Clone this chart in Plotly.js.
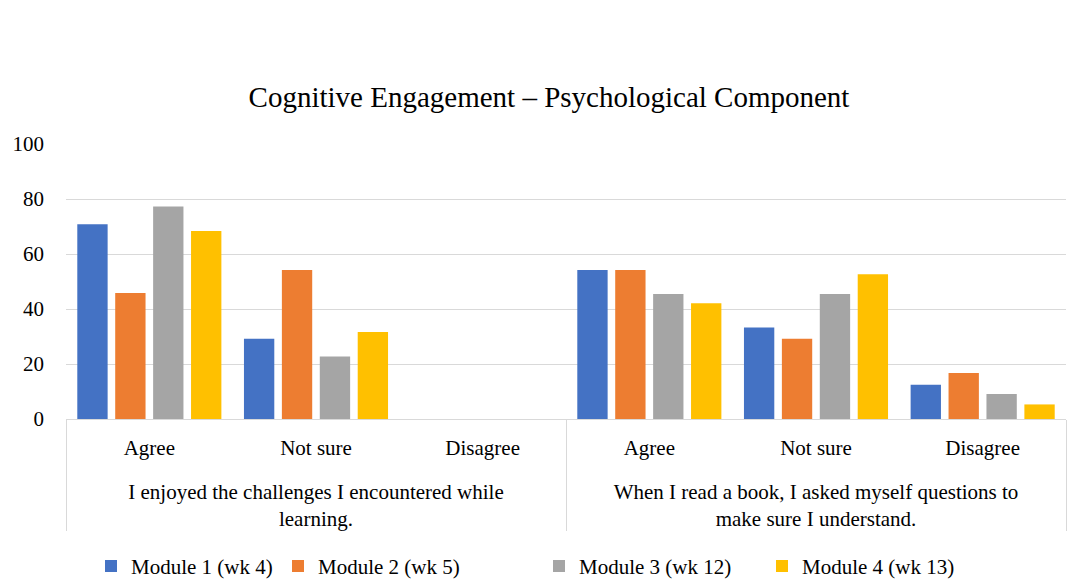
<!DOCTYPE html>
<html>
<head>
<meta charset="utf-8">
<script src="https://cdn.plot.ly/plotly-3.0.1.min.js"></script>
<style>html,body{margin:0;padding:0;background:#fff;}#chart{width:1069px;height:579px;}</style>
</head>
<body>
<div id="chart"></div>
<script>
const questions = [
  "I enjoyed the challenges I encountered while<br>learning.",
  "When I read a book, I asked myself questions to<br>make sure I understand."
];
const responses = ["Agree", "Not sure", "Disagree"];
const seriesNames = ["Module 1 (wk 4)", "Module 2 (wk 5)", "Module 3 (wk 12)", "Module 4 (wk 13)"];
const module1 = [70.8, 29.2, 0, 54.2, 33.3, 12.5];
const module2 = [45.8, 54.2, 0, 54.2, 29.2, 16.7];
const module3 = [77.3, 22.7, 0, 45.5, 45.5, 9.1];
const module4 = [68.4, 31.6, 0, 42.1, 52.6, 5.3];
const colors = ["#4472C4", "#ED7D31", "#A5A5A5", "#FFC000"];

const PLOT_L = 66, PLOT_W = 1000, PLOT_T = 144, PLOT_H = 275.5;
const legendSquareLeftPx = [111, 298, 559, 782];
const legendCenterPx = 567;

const xGroups = [];
const xCats = [];
questions.forEach(q => responses.forEach(r => { xGroups.push(" <br>" + q); xCats.push(r); }));

const allSeries = [module1, module2, module3, module4];
const legendIds = ["legend", "legend2", "legend3", "legend4"];
const traces = allSeries.map((vals, i) => ({
  type: "bar",
  name: seriesNames[i],
  legend: legendIds[i],
  x: [xGroups, xCats],
  y: vals,
  marker: { color: colors[i], line: { width: 0 } },
  hoverinfo: "skip"
}));

const font = { family: "'Liberation Serif', 'Times New Roman', serif", color: "#000000" };

const layout = {
  width: 1069,
  height: 579,
  paper_bgcolor: "#ffffff",
  plot_bgcolor: "#ffffff",
  margin: { l: PLOT_L, r: 1069 - PLOT_L - PLOT_W, t: PLOT_T, b: 579 - PLOT_T - PLOT_H, autoexpand: false },
  font: Object.assign({ size: 21 }, font),
  title: {
    text: "Cognitive Engagement – Psychological Component",
    font: Object.assign({ size: 29 }, font),
    x: 549 / 1069, xanchor: "center",
    y: 1 - 97 / 579, yanchor: "middle"
  },
  barmode: "group",
  bargap: 0.09,
  bargroupgap: 0.2,
  xaxis: {
    type: "multicategory",
    showgrid: false,
    showline: true,
    linecolor: "#D9D9D9",
    linewidth: 1,
    ticks: "",
    ticklabelstandoff: 10,
    showdividers: true,
    dividercolor: "#D9D9D9",
    dividerwidth: 1,
    tickfont: Object.assign({ size: 21 }, font),
    automargin: false
  },
  yaxis: {
    range: [0, 100],
    dtick: 20,
    tick0: 0,
    showgrid: true,
    gridcolor: "#D9D9D9",
    gridwidth: 1,
    zeroline: false,
    showline: false,
    ticks: "",
    ticklabelstandoff: 21,
    tickfont: Object.assign({ size: 21 }, font),
    automargin: false
  },
  showlegend: true
};

legendIds.forEach((id, i) => {
  layout[id] = {
    orientation: "h",
    x: (legendSquareLeftPx[i] - 20 - PLOT_L) / PLOT_W, xanchor: "left",
    y: (PLOT_T + PLOT_H - legendCenterPx) / PLOT_H, yanchor: "middle",
    font: Object.assign({ size: 21 }, font),
    bgcolor: "rgba(0,0,0,0)",
    borderwidth: 0
  };
});

Plotly.newPlot("chart", traces, layout, { displayModeBar: false, staticPlot: true });
</script>
</body>
</html>
